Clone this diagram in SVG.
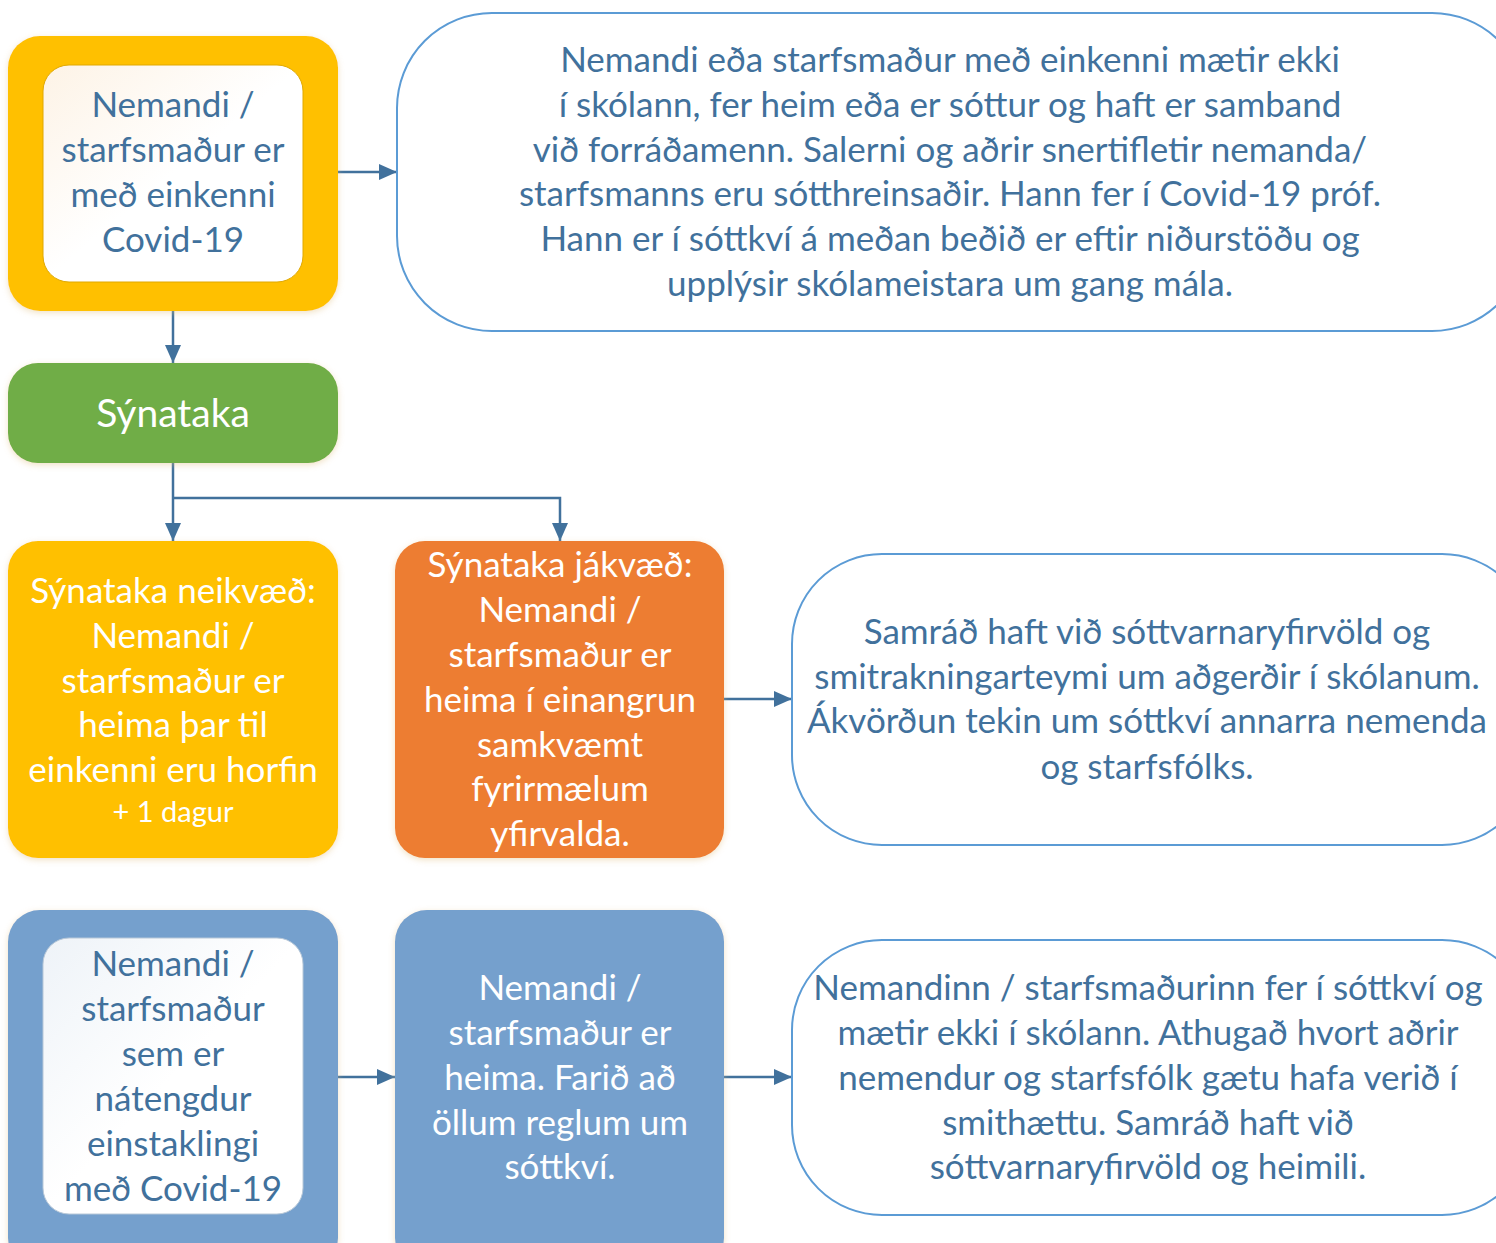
<svg xmlns="http://www.w3.org/2000/svg" width="1496" height="1243" viewBox="0 0 1496 1243">
<style>
text{font-family:Lato,"Open Sans","Noto Sans",sans-serif;font-size:35px;text-anchor:middle}
.dk{fill:#41719C}
.wt{fill:#FFFFFF}
.outline{fill:#FFFFFF;stroke:#5B9BD5;stroke-width:2}
.conn{fill:none;stroke:#41719C;stroke-width:2.5}
</style>
<defs>
<marker id="ah" viewBox="0 0 18 16" refX="18" refY="8" markerWidth="18" markerHeight="16" orient="auto" markerUnits="userSpaceOnUse">
<path d="M0,0 L18,8 L0,16 z" fill="#41719C"/>
</marker>
<filter id="sh" x="-10%" y="-10%" width="120%" height="120%">
<feDropShadow dx="0" dy="2" stdDeviation="3" flood-color="#E0C080" flood-opacity="0.45"/>
</filter>
<linearGradient id="wg" x1="0" y1="0" x2="1" y2="1">
<stop offset="0" stop-color="#FDF3E6"/>
<stop offset="0.5" stop-color="#FFFFFF"/>
</linearGradient>
<linearGradient id="wgb" x1="0" y1="0" x2="1" y2="1">
<stop offset="0" stop-color="#EEF3F8"/>
<stop offset="0.5" stop-color="#FFFFFF"/>
</linearGradient>
</defs>
<rect width="1496" height="1243" fill="#FFFFFF"/>

<g id="connectors">
<path class="conn" d="M338,172 H397" marker-end="url(#ah)"/>
<path class="conn" d="M173,311 V363" marker-end="url(#ah)"/>
<path class="conn" d="M173,463 V541" marker-end="url(#ah)"/>
<path class="conn" d="M173,498 H560 V541" marker-end="url(#ah)"/>
<path class="conn" d="M724,699 H792" marker-end="url(#ah)"/>
<path class="conn" d="M338,1077 H395" marker-end="url(#ah)"/>
<path class="conn" d="M724,1077 H792" marker-end="url(#ah)"/>
</g>

<g id="n-einkenni">
<rect x="8" y="36" width="330" height="275" rx="32" fill="#FFC000" filter="url(#sh)"/>
<rect x="43" y="65" width="260" height="217" rx="26" fill="url(#wg)" stroke="#E0A800" stroke-width="1"/>
<text class="dk" x="173" y="117">Nemandi /</text>
<text class="dk" x="173" y="162">starfsmaður er</text>
<text class="dk" x="173" y="207">með einkenni</text>
<text class="dk" x="173" y="252">Covid-19</text>
</g>

<g id="n-info1">
<rect class="outline" x="397" y="13" width="1130" height="318" rx="95"/>
<text class="dk" x="950" y="72">Nemandi eða starfsmaður með einkenni mætir ekki</text>
<text class="dk" x="950" y="117">í skólann, fer heim eða er sóttur og haft er samband</text>
<text class="dk" x="950" y="162">við forráðamenn. Salerni og aðrir snertifletir nemanda/</text>
<text class="dk" x="950" y="206">starfsmanns eru sótthreinsaðir. Hann fer í Covid-19 próf.</text>
<text class="dk" x="950" y="251">Hann er í sóttkví á meðan beðið er eftir niðurstöðu og</text>
<text class="dk" x="950" y="296">upplýsir skólameistara um gang mála.</text>
</g>

<g id="n-synataka">
<rect x="8" y="363" width="330" height="100" rx="30" fill="#70AD47" filter="url(#sh)"/>
<text class="wt" x="173" y="427" style="font-size:39px">Sýnataka</text>
</g>

<g id="n-neikvaed">
<rect x="8" y="541" width="330" height="317" rx="30" fill="#FFC000" filter="url(#sh)"/>
<text class="wt" x="173" y="603">Sýnataka neikvæð:</text>
<text class="wt" x="173" y="648">Nemandi /</text>
<text class="wt" x="173" y="693">starfsmaður er</text>
<text class="wt" x="173" y="737">heima þar til</text>
<text class="wt" x="173" y="782">einkenni eru horfin</text>
<text class="wt" x="173" y="822" style="font-size:29px">+ 1 dagur</text>
</g>

<g id="n-jakvaed">
<rect x="395" y="541" width="329" height="317" rx="30" fill="#ED7D31" filter="url(#sh)"/>
<text class="wt" x="560" y="577">Sýnataka jákvæð:</text>
<text class="wt" x="560" y="622">Nemandi /</text>
<text class="wt" x="560" y="667">starfsmaður er</text>
<text class="wt" x="560" y="712">heima í einangrun</text>
<text class="wt" x="560" y="757">samkvæmt</text>
<text class="wt" x="560" y="801">fyrirmælum</text>
<text class="wt" x="560" y="846">yfirvalda.</text>
</g>

<g id="n-info2">
<rect class="outline" x="792" y="554" width="740" height="291" rx="90"/>
<text class="dk" x="1147" y="644">Samráð haft við sóttvarnaryfirvöld og</text>
<text class="dk" x="1147" y="689">smitrakningarteymi um aðgerðir í skólanum.</text>
<text class="dk" x="1147" y="733">Ákvörðun tekin um sóttkví annarra nemenda</text>
<text class="dk" x="1147" y="779">og starfsfólks.</text>
</g>

<g id="n-natengdur">
<rect x="8" y="910" width="330" height="360" rx="32" fill="#75A0CD" filter="url(#sh)"/>
<rect x="43" y="938" width="260" height="276" rx="26" fill="url(#wgb)" stroke="#B8C8D8" stroke-width="1"/>
<text class="dk" x="173" y="976">Nemandi /</text>
<text class="dk" x="173" y="1021">starfsmaður</text>
<text class="dk" x="173" y="1066">sem er</text>
<text class="dk" x="173" y="1111">nátengdur</text>
<text class="dk" x="173" y="1156">einstaklingi</text>
<text class="dk" x="173" y="1201">með Covid-19</text>
</g>

<g id="n-heima">
<rect x="395" y="910" width="329" height="360" rx="32" fill="#75A0CD" filter="url(#sh)"/>
<text class="wt" x="560" y="1000">Nemandi /</text>
<text class="wt" x="560" y="1045">starfsmaður er</text>
<text class="wt" x="560" y="1090">heima. Farið að</text>
<text class="wt" x="560" y="1135">öllum reglum um</text>
<text class="wt" x="560" y="1179">sóttkví.</text>
</g>

<g id="n-info3">
<rect class="outline" x="792" y="940" width="740" height="275" rx="90"/>
<text class="dk" x="1148" y="1000">Nemandinn / starfsmaðurinn fer í sóttkví og</text>
<text class="dk" x="1148" y="1045">mætir ekki í skólann. Athugað hvort aðrir</text>
<text class="dk" x="1148" y="1090">nemendur og starfsfólk gætu hafa verið í</text>
<text class="dk" x="1148" y="1135">smithættu. Samráð haft við</text>
<text class="dk" x="1148" y="1179">sóttvarnaryfirvöld og heimili.</text>
</g>
</svg>
